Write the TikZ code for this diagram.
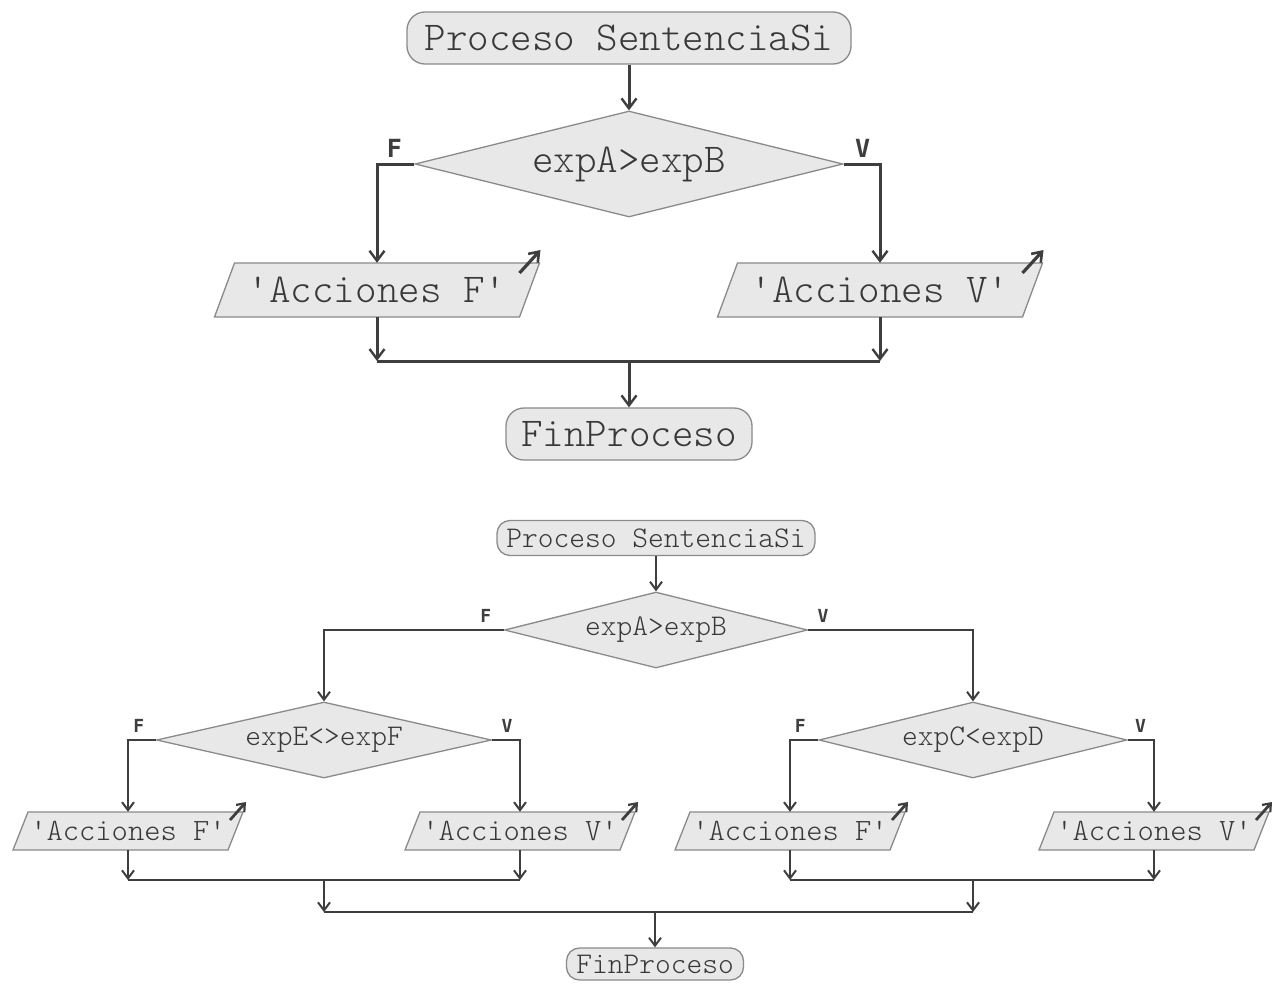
\documentclass[tikz,border=0pt]{standalone}
\usepackage{fontspec}
\newfontfamily\lblfont{DejaVu Sans Mono}
\newfontfamily\codefont{lmmonolt10-regular.otf}
\usetikzlibrary{shapes.geometric, arrows.meta, calc}

\definecolor{fillc}{HTML}{E8E8E8}
\definecolor{edgec}{HTML}{8A8A8A}
\definecolor{linec}{HTML}{3E3E3E}
\definecolor{txtc}{HTML}{383838}

\tikzset{
  bigtext/.style={font=\codefont\fontsize{41}{46}\selectfont},
  smalltext/.style={font=\codefont\fontsize{30}{34}\selectfont},
  iosmalltext/.style={font=\codefont\fontsize{31}{35}\selectfont},
  term/.style={rectangle, draw=edgec, fill=fillc, line width=1.3pt, inner sep=0pt, text=txtc},
  cond/.style={diamond, shape aspect=4, draw=edgec, fill=fillc, line width=1.3pt, inner sep=0pt, text=txtc},
  ioshape/.style={draw=edgec, fill=fillc, line width=1.3pt, line join=miter},
  iotext/.style={rectangle, inner sep=0pt, text=txtc},
  bigflow/.style={draw=linec, line width=3pt, -{Straight Barb[length=10pt,width=15pt,line width=2.4pt]}},
  bigplain/.style={draw=linec, line width=3pt},
  smallflow/.style={draw=linec, line width=2.5pt, -{Straight Barb[length=8pt,width=12pt,line width=2pt]}},
  smallplain/.style={draw=linec, line width=2.5pt},
  bigout/.style={draw=linec, line width=3.2pt, -{Straight Barb[length=9pt,width=13pt,line width=2.6pt]}},
  smallout/.style={draw=linec, line width=2.8pt, -{Straight Barb[length=7pt,width=11pt,line width=2.2pt]}},
  biglbl/.style={font=\lblfont\bfseries\fontsize{25}{28}\selectfont, text=linec, inner sep=0pt, anchor=base},
  smalllbl/.style={font=\lblfont\bfseries\fontsize{18}{20}\selectfont, text=linec, inner sep=0pt, anchor=base},
}

% input/output box: name, x, y, middle width, height, slant, text style, text
\newcommand{\iobox}[8]{%
  \path[ioshape] (#2-#4/2-#6/2, #3+#5/2) -- (#2+#4/2-#6/2, #3+#5/2)
     -- (#2+#4/2+#6/2, #3-#5/2) -- (#2-#4/2+#6/2, #3-#5/2) -- cycle;
  \coordinate (#1-ne) at (#2+#4/2+#6/2, #3-#5/2);
  \node[iotext, #7, minimum width=#4, minimum height=#5] (#1) at (#2,#3) {#8};
}

\begin{document}
\begin{tikzpicture}[x=1pt, y=-1pt]
\useasboundingbox (0,0) rectangle (1274,985);
\fill[white] (0,0) rectangle (1274,985);

% ---------- simple if ----------
\node[term, bigtext, rounded corners=18pt, minimum width=444, minimum height=52] (s1) at (629,38) {Proceso SentenciaSi};
\node[cond, bigtext, minimum width=428, minimum height=106] (d1) at (629,164) {expA>expB};
\iobox{p1F}{377}{290}{305}{54}{20}{bigtext}{'Acciones F'}
\iobox{p1V}{880}{290}{305}{54}{20}{bigtext}{'Acciones V'}
\node[term, bigtext, rounded corners=18pt, minimum width=246, minimum height=52] (e1) at (629,434) {FinProceso};

\draw[bigout] ($(p1F-ne)+(-20,10)$) -- ($(p1F-ne)+(1,-13)$);
\draw[bigout] ($(p1V-ne)+(-20,10)$) -- ($(p1V-ne)+(1,-13)$);

\coordinate (m1) at (629,361);
\draw[bigflow] (s1.south) -- (d1.north);
\draw[bigflow] (d1.west) -| (p1F.north);
\draw[bigflow] (d1.east) -| (p1V.north);
\node[biglbl] (l1F) at ($(d1.west)+(-20,-7)$) {F};
\node[biglbl] (l1V) at ($(d1.east)+(19,-7)$) {V};
\draw[bigflow] (p1F.south) -- (p1F.south |- m1);
\draw[bigflow] (p1V.south) -- (p1V.south |- m1);
\draw[bigplain] (p1F.south |- m1) -- (p1V.south |- m1);
\draw[bigflow] (m1) -- (e1.north);

% ---------- nested if ----------
\node[term, smalltext, rounded corners=13pt, minimum width=318, minimum height=35] (s2) at (656,538) {Proceso SentenciaSi};
\node[cond, smalltext, minimum width=303, minimum height=76] (d2) at (656,630) {expA>expB};
\node[cond, smalltext, minimum width=335, minimum height=76] (dE) at (324,740) {expE<>expF};
\node[cond, smalltext, minimum width=308, minimum height=76] (dC) at (973,740) {expC<expD};
\iobox{pF1}{128}{831}{215}{38}{15}{iosmalltext}{'Acciones F'}
\iobox{pV1}{520}{831}{215}{38}{15}{iosmalltext}{'Acciones V'}
\iobox{pF2}{790}{831}{215}{38}{15}{iosmalltext}{'Acciones F'}
\iobox{pV2}{1154}{831}{215}{38}{15}{iosmalltext}{'Acciones V'}
\node[term, smalltext, rounded corners=13pt, minimum width=177, minimum height=32] (e2) at (655,964) {FinProceso};

\foreach \p in {pF1,pV1,pF2,pV2}{
  \draw[smallout] ($(\p-ne)+(-13,8)$) -- ($(\p-ne)+(3,-10)$);
}

\draw[smallflow] (s2.south) -- (d2.north);
\draw[smallflow] (d2.west) -| (dE.north);
\draw[smallflow] (d2.east) -| (dC.north);
\node[smalllbl] (l2F) at ($(d2.west)+(-18,-8)$) {F};
\node[smalllbl] (l2V) at ($(d2.east)+(15,-8)$) {V};

\draw[smallflow] (dE.west) -| (pF1.north);
\draw[smallflow] (dE.east) -| (pV1.north);
\node[smalllbl] (lEF) at ($(dE.west)+(-17,-8)$) {F};
\node[smalllbl] (lEV) at ($(dE.east)+(15,-8)$) {V};

\draw[smallflow] (dC.west) -| (pF2.north);
\draw[smallflow] (dC.east) -| (pV2.north);
\node[smalllbl] (lCF) at ($(dC.west)+(-18,-8)$) {F};
\node[smalllbl] (lCV) at ($(dC.east)+(13,-8)$) {V};

\coordinate (m2) at (324,880);
\coordinate (m3) at (973,880);
\coordinate (m4) at (655,912);
\draw[smallflow] (pF1.south) -- (pF1.south |- m2);
\draw[smallflow] (pV1.south) -- (pV1.south |- m2);
\draw[smallplain] (pF1.south |- m2) -- (pV1.south |- m2);
\draw[smallflow] (pF2.south) -- (pF2.south |- m3);
\draw[smallflow] (pV2.south) -- (pV2.south |- m3);
\draw[smallplain] (pF2.south |- m3) -- (pV2.south |- m3);
\draw[smallflow] (m2) -- (m2 |- m4);
\draw[smallflow] (m3) -- (m3 |- m4);
\draw[smallplain] (m2 |- m4) -- (m3 |- m4);
\draw[smallflow] (m4) -- (e2.north);
\end{tikzpicture}
\end{document}
